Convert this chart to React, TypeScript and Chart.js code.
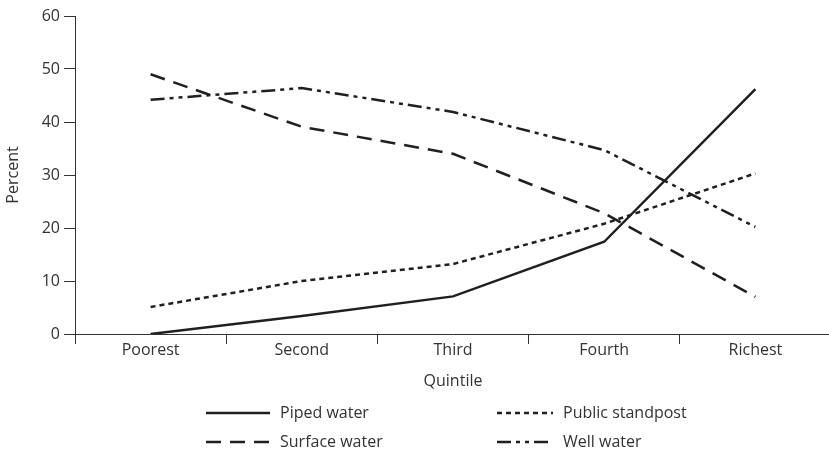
import React, { useEffect, useRef } from "react";
import { Chart, registerables } from "chart.js";

Chart.register(...registerables);

const categories = ["Poorest", "Second", "Third", "Fourth", "Richest"];
const pipedWater = [0, 3.4, 7.1, 17.4, 46.2];
const publicStandpost = [5.1, 10, 13.2, 20.8, 30.3];
const surfaceWater = [49, 39.1, 34, 22.8, 7.0];
const wellWater = [44.2, 46.4, 41.9, 34.7, 20.2];
const yTicks = [0, 10, 20, 30, 40, 50, 60];

const FONT = "'Open Sans', sans-serif";
const FS = 16;
const INK = "#231f20";
const TEXT = "#333333";

const legendPlugin = {
  id: "gridLegend",
  afterDraw(chart: any) {
    const ctx = chart.ctx;
    const ds = chart.data.datasets;
    const cols = [206, 497];
    const lineW = [64, 56];
    const rows = [413, 442];
    ctx.save();
    [0, 1, 2, 3].forEach((i) => {
      const d = ds[i];
      const col = i % 2;
      const row = Math.floor(i / 2);
      const x = cols[col];
      const y = rows[row];
      ctx.beginPath();
      ctx.strokeStyle = INK;
      ctx.lineWidth = 2.5;
      ctx.lineCap = "butt";
      ctx.setLineDash(d.borderDash || []);
      ctx.moveTo(x, y);
      ctx.lineTo(x + lineW[col], y);
      ctx.stroke();
      ctx.setLineDash([]);
      ctx.fillStyle = TEXT;
      ctx.font = `${FS}px ${FONT}`;
      ctx.textBaseline = "middle";
      ctx.textAlign = "left";
      ctx.fillText(d.label, x + lineW[col] + 10, y);
    });
    ctx.restore();
  },
};

export default function App() {
  const ref = useRef<HTMLCanvasElement | null>(null);
  useEffect(() => {
    if (!ref.current) return;
    const mk = (label: string, data: number[], dash: number[]) => ({
      label,
      data,
      borderColor: INK,
      backgroundColor: INK,
      borderWidth: 2.5,
      borderDash: dash,
      pointRadius: 0,
      tension: 0,
      fill: false,
    });
    const chart = new Chart(ref.current, {
      type: "line",
      data: {
        labels: categories,
        datasets: [
          mk("Piped water", pipedWater, []),
          mk("Public standpost", publicStandpost, [5, 4]),
          mk("Surface water", surfaceWater, [15, 9]),
          mk("Well water", wellWater, [14, 5, 4, 5, 4, 5]),
        ],
      },
      options: {
        animation: false,
        responsive: false,
        maintainAspectRatio: false,
        layout: { padding: { top: 16, left: 0, right: 0, bottom: 63 } },
        plugins: {
          legend: { display: false },
          tooltip: { enabled: false },
        },
        scales: {
          x: {
            type: "category",
            offset: true,
            grid: {
              offset: true,
              drawOnChartArea: false,
              drawTicks: true,
              tickLength: 10,
              tickColor: "#333",
              tickWidth: 1,
            },
            border: { display: true, color: "#333", width: 1 },
            ticks: {
              color: TEXT,
              font: { family: FONT, size: FS },
              padding: -3,
              maxRotation: 0,
              autoSkip: false,
            },
            title: {
              display: true,
              text: "Quintile",
              color: TEXT,
              font: { family: FONT, size: FS },
              padding: { top: 0, bottom: 0 },
            },
            afterFit: (s: any) => {
              s.height = 57;
            },
          },
          y: {
            min: 0,
            max: 60,
            afterBuildTicks: (s: any) => {
              s.ticks = yTicks.map((v) => ({ value: v }));
            },
            grid: {
              drawOnChartArea: false,
              drawTicks: true,
              tickLength: 11,
              tickColor: "#333",
              tickWidth: 1,
            },
            border: { display: true, color: "#333", width: 1 },
            ticks: {
              color: TEXT,
              font: { family: FONT, size: FS },
              padding: 4,
            },
            title: {
              display: true,
              text: "Percent",
              color: TEXT,
              font: { family: FONT, size: FS },
              padding: { top: 4, bottom: 0 },
            },
            afterFit: (s: any) => {
              s.width = 75;
            },
          },
        },
      },
      plugins: [legendPlugin],
    });
    return () => chart.destroy();
  }, []);
  return (
    <div
      style={{
        position: "fixed",
        left: 0,
        top: 0,
        width: 829,
        height: 454,
        overflow: "hidden",
        background: "#fff",
      }}
    >
      <canvas ref={ref} width={831} height={454} style={{ width: 831, height: 454, display: "block" }} />
    </div>
  );
}
